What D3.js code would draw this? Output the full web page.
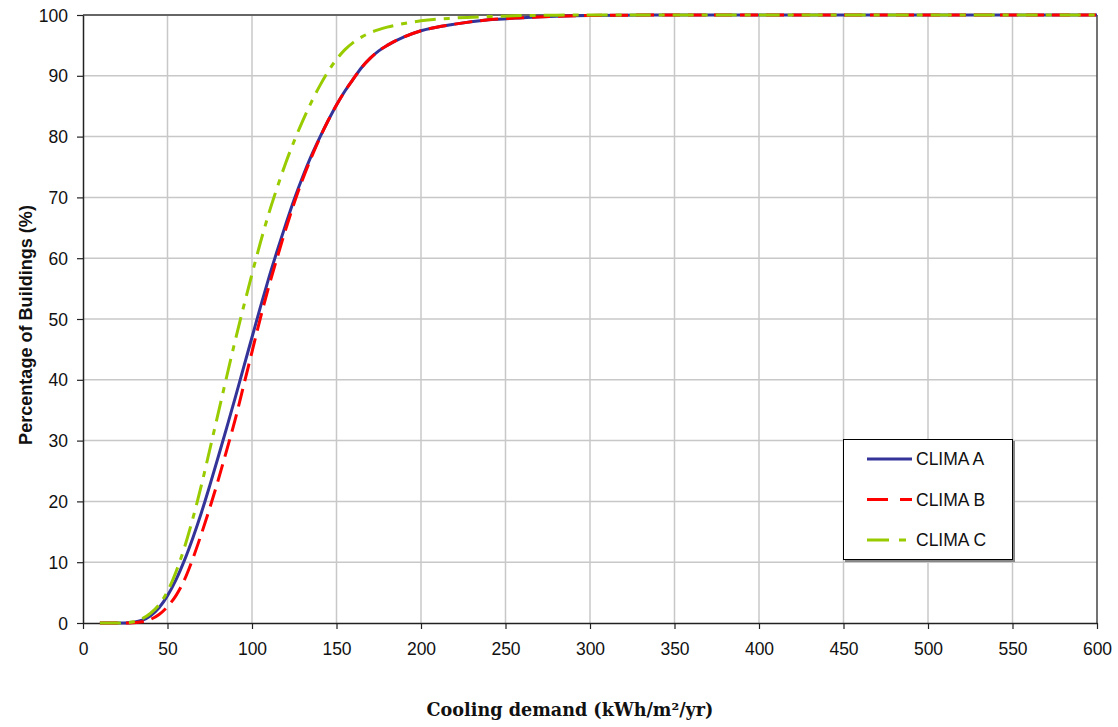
<!DOCTYPE html>
<html>
<head>
<meta charset="utf-8">
<script src="https://cdn.jsdelivr.net/npm/d3@7"></script>
<style>
  html, body { margin: 0; padding: 0; background: #fff; }
  svg { display: block; }
</style>
</head>
<body>
<svg id="chart" width="1118" height="727"></svg>
<script>
// ---- data ----
const demand = [10, 20, 25, 30, 35, 40, 45, 50, 55, 60, 65, 70, 75, 80, 85, 90, 95, 100, 105, 110, 115, 120, 125, 130, 135, 140, 145, 150, 155, 160, 165, 170, 175, 180, 190, 200, 220, 240, 260, 280, 300, 350, 400, 600];
const climaA = [0, 0, 0.02, 0.12, 0.45, 1.2, 2.5, 4.5, 7.1, 10.3, 14.0, 18.1, 22.6, 27.3, 32.1, 37.0, 42.0, 47.0, 52.0, 56.8, 61.3, 65.6, 69.7, 73.4, 76.8, 79.8, 82.6, 85.2, 87.5, 89.5, 91.4, 92.9, 94.1, 95.0, 96.4, 97.4, 98.5, 99.2, 99.55, 99.8, 99.92, 100, 100, 100];
const climaB = [0, 0, 0, 0.04, 0.2, 0.6, 1.4, 2.7, 4.5, 7.1, 10.6, 14.6, 18.9, 23.5, 28.4, 33.4, 39.0, 44.6, 50.2, 55.4, 60.2, 64.8, 69.1, 73.0, 76.5, 79.7, 82.6, 85.2, 87.5, 89.5, 91.4, 92.9, 94.1, 95.0, 96.4, 97.4, 98.5, 99.2, 99.55, 99.8, 99.92, 100, 100, 100];
const climaC = [0, 0, 0.05, 0.2, 0.7, 1.6, 3.0, 5.2, 8.4, 12.4, 17.2, 22.6, 28.5, 34.5, 40.5, 46.4, 52.0, 57.4, 62.6, 67.4, 71.7, 75.7, 79.3, 82.6, 85.6, 88.3, 90.7, 92.7, 94.3, 95.5, 96.4, 97.1, 97.6, 98.0, 98.6, 99.05, 99.5, 99.75, 99.9, 99.97, 100, 100, 100, 100];
const seriesNames = ["CLIMA A", "CLIMA B", "CLIMA C"];
const xTicks = d3.range(0, 601, 50);
const yTicks = d3.range(0, 101, 10);
const xTitle = "Cooling demand (kWh/m\u00B2/yr)";
const yTitle = "Percentage of Buildings (%)";

// ---- layout ----
const svg = d3.select("#chart");
const M = { left: 83, top: 15, right: 1097, bottom: 623 };
const x = d3.scaleLinear().domain([0, 600]).range([M.left, M.right]);
const y = d3.scaleLinear().domain([0, 100]).range([M.bottom, M.top]);
const font = "'Liberation Sans', Arial, sans-serif";

// gridlines
svg.append("g").selectAll("line.v").data(xTicks.filter(d => d > 0 && d < 600)).join("line")
  .attr("x1", d => x(d)).attr("x2", d => x(d))
  .attr("y1", M.top).attr("y2", M.bottom)
  .attr("stroke", "#c8c8c8").attr("stroke-width", 1.5);
svg.append("g").selectAll("line.h").data(yTicks.filter(d => d > 0 && d < 100)).join("line")
  .attr("x1", M.left).attr("x2", M.right)
  .attr("y1", d => y(d)).attr("y2", d => y(d))
  .attr("stroke", "#c8c8c8").attr("stroke-width", 1.5);

// frame top / right
svg.append("line").attr("x1", M.left).attr("x2", M.right).attr("y1", M.top).attr("y2", M.top)
  .attr("stroke", "#666").attr("stroke-width", 2);
svg.append("line").attr("x1", M.right).attr("x2", M.right).attr("y1", M.top).attr("y2", M.bottom)
  .attr("stroke", "#444").attr("stroke-width", 1.5);

// axes
const xAxis = svg.append("g").attr("transform", `translate(0,${M.bottom})`)
  .call(d3.axisBottom(x).tickValues(xTicks).tickSize(6).tickPadding(14).tickSizeOuter(0));
const yAxis = svg.append("g").attr("transform", `translate(${M.left},0)`)
  .call(d3.axisLeft(y).tickValues(yTicks).tickSize(6).tickPadding(9).tickSizeOuter(0));
[xAxis, yAxis].forEach(g => {
  g.select(".domain").attr("stroke", "#222").attr("stroke-width", 1.5);
  g.selectAll(".tick line").attr("stroke", "#222").attr("stroke-width", 1.2);
  g.selectAll(".tick text").attr("fill", "#111").style("font-family", font).style("font-size", "17.5px");
});
yAxis.selectAll(".tick text").attr("dy", "0.35em");

// lines
const styles = [
  { data: climaA, color: "#333399", dash: null },
  { data: climaB, color: "#ff0000", dash: "18,8" },
  { data: climaC, color: "#99cc00", dash: "21,8,6,8" }
];
const line = d3.line().x(d => x(d[0])).y(d => y(d[1])).curve(d3.curveMonotoneX);
styles.forEach(s => {
  svg.append("path")
    .datum(demand.map((d, i) => [d, s.data[i]]))
    .attr("d", line)
    .attr("fill", "none")
    .attr("stroke", s.color)
    .attr("stroke-width", 3)
    .attr("stroke-dasharray", s.dash);
});

// legend
const lg = svg.append("g");
lg.append("rect").attr("x", 845).attr("y", 441).attr("width", 170).attr("height", 121).attr("fill", "#888");
lg.append("rect").attr("x", 843.5).attr("y", 439.5).attr("width", 169).attr("height", 120)
  .attr("fill", "#fff").attr("stroke", "#000").attr("stroke-width", 1);
const legendYs = [459, 499.5, 540];
styles.forEach((s, i) => {
  lg.append("line").attr("x1", 867).attr("x2", 912).attr("y1", legendYs[i]).attr("y2", legendYs[i])
    .attr("stroke", s.color).attr("stroke-width", 3)
    .attr("stroke-dasharray", i === 0 ? null : (i === 1 ? "21,12" : "22,10,7,10"));
  lg.append("text").attr("x", 916).attr("y", legendYs[i]).attr("dy", "0.36em")
    .style("font-family", font).style("font-size", "17.5px").attr("fill", "#111")
    .text(seriesNames[i]);
});

// titles
const yt = svg.append("text")
  .attr("transform", `translate(32,325) rotate(-90)`)
  .attr("text-anchor", "middle")
  .style("font-family", font).style("font-weight", "bold").style("font-size", "16px")
  .attr("fill", "#111").text(yTitle);
const xt = svg.append("text")
  .attr("x", 570).attr("y", 716)
  .attr("text-anchor", "middle")
  .style("font-family", "'DejaVu Serif', serif").style("font-weight", "bold").style("font-size", "18px")
  .attr("fill", "#111").text(xTitle);
// fit widths to reference
let w = xt.node().getComputedTextLength();
xt.style("font-size", (18 * 287 / w).toFixed(2) + "px");
let wy = yt.node().getComputedTextLength();
yt.style("font-size", (16 * 240 / wy).toFixed(2) + "px");
</script>
</body>
</html>
